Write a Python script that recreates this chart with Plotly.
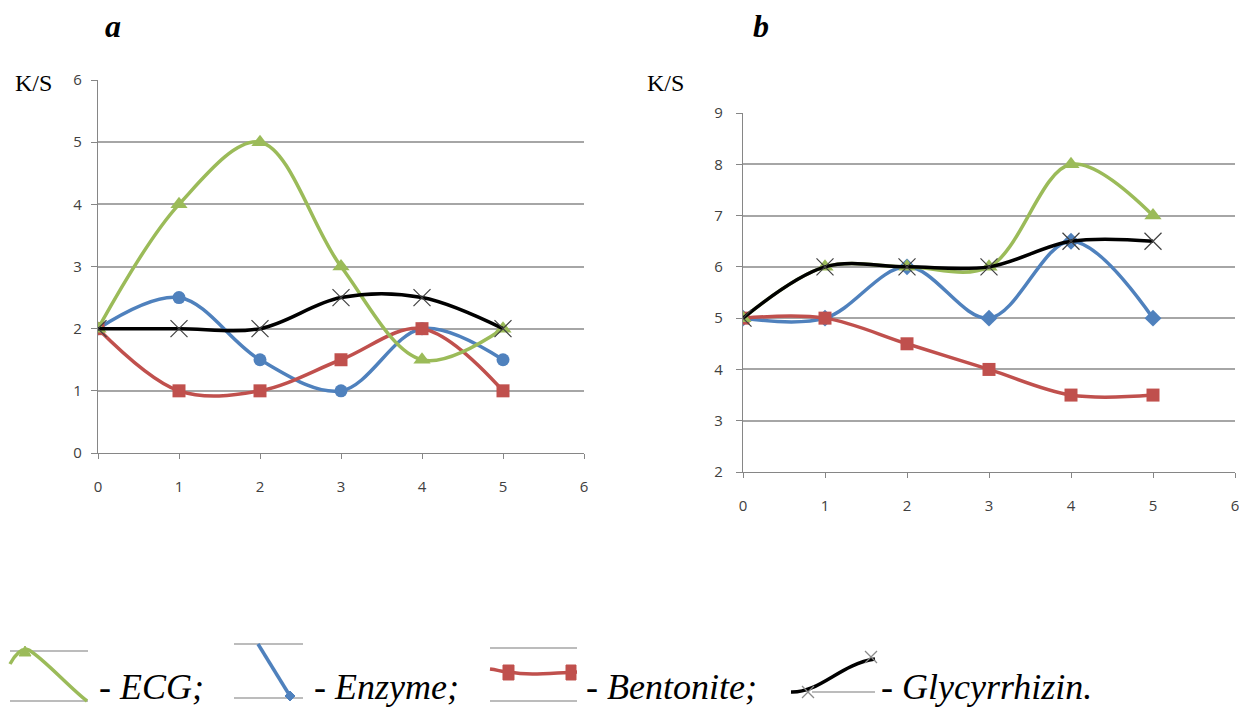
import plotly.graph_objects as go

W, H = 1239, 708

# ---------------- data ----------------
x_vals = [0, 1, 2, 3, 4, 5]
x_ticks = [0, 1, 2, 3, 4, 5, 6]

a_ecg = [2, 4, 5, 3, 1.5, 2]
a_enzyme = [2, 2.5, 1.5, 1, 2, 1.5]
a_bentonite = [2, 1, 1, 1.5, 2, 1]
a_glycyrrhizin = [2, 2, 2, 2.5, 2.5, 2]

b_ecg = [5, 6, 6, 6, 8, 7]
b_enzyme = [5, 5, 6, 5, 6.5, 5]
b_bentonite = [5, 5, 4.5, 4, 3.5, 3.5]
b_glycyrrhizin = [5, 6, 6, 6, 6.5, 6.5]

a_yticks = [0, 1, 2, 3, 4, 5, 6]
b_yticks = [2, 3, 4, 5, 6, 7, 8, 9]

series_names = ["ECG", "Enzyme", "Bentonite", "Glycyrrhizin"]
legend_labels = ["- ECG;", "- Enzyme;", "- Bentonite;", "- Glycyrrhizin."]

GREEN = "#9BBB59"
BLUE = "#4F81BD"
RED = "#C0504D"
BLACK = "#000000"
GRID = "#a6a6a6"
AXIS = "#868686"
TICKFONT = dict(family="Open Sans, Liberation Sans, sans-serif", size=15, color="#404040")
SERIF = "Liberation Serif, Times New Roman, serif"


def fx(px):
    return px / W


def fy(py):
    return 1 - py / H


fig = go.Figure()


def add_series(xa, ya, ecg, enz, ben, gly, enz_symbol):
    common = dict(mode="lines+markers", line_shape="spline", xaxis=xa, yaxis=ya,
                  showlegend=False, hoverinfo="skip")
    fig.add_trace(go.Scatter(x=x_vals, y=enz, name="Enzyme",
                             line=dict(color=BLUE, width=3.5, smoothing=1),
                             marker=dict(symbol=enz_symbol, size=13, color=BLUE), **common))
    fig.add_trace(go.Scatter(x=x_vals, y=ben, name="Bentonite",
                             line=dict(color=RED, width=3.5, smoothing=1),
                             marker=dict(symbol="square", size=13, color=RED), **common))
    fig.add_trace(go.Scatter(x=x_vals, y=ecg, name="ECG",
                             line=dict(color=GREEN, width=3.5, smoothing=1),
                             marker=dict(symbol="triangle-up", size=15, color=GREEN), **common))
    fig.add_trace(go.Scatter(x=x_vals, y=gly, name="Glycyrrhizin",
                             line=dict(color=BLACK, width=3.5, smoothing=1),
                             marker=dict(symbol="x-thin", size=17, color="#404040",
                                         line=dict(width=1.2, color="#404040")), **common))


add_series("x", "y", a_ecg, a_enzyme, a_bentonite, a_glycyrrhizin, "circle")
add_series("x2", "y2", b_ecg, b_enzyme, b_bentonite, b_glycyrrhizin, "diamond")

xcommon = dict(range=[0, 6], tickvals=x_ticks, showgrid=False, zeroline=False,
               showline=True, linecolor=AXIS, linewidth=1.3, ticks="outside",
               ticklen=5, tickcolor=AXIS, tickfont=TICKFONT, fixedrange=True,
               automargin=False, ticklabeloverflow="allow")
ycommon = dict(showgrid=True, gridcolor=GRID, gridwidth=1.5, zeroline=False,
               showline=True, linecolor=AXIS, linewidth=1.3, ticks="outside",
               ticklen=6, tickcolor=AXIS, tickfont=TICKFONT, fixedrange=True,
               automargin=False)

fig.update_layout(
    width=W, height=H,
    margin=dict(l=0, r=0, t=0, b=0, pad=0),
    paper_bgcolor="white", plot_bgcolor="white",
    xaxis=dict(domain=[fx(98), fx(584)], anchor="y", ticklabelstandoff=15, **xcommon),
    yaxis=dict(domain=[fy(453), fy(80)], anchor="x", range=[0, 6], tickvals=a_yticks,
               ticklabelstandoff=6, **ycommon),
    xaxis2=dict(domain=[fx(743), fx(1235)], anchor="y2", ticklabelstandoff=15, **xcommon),
    yaxis2=dict(domain=[fy(472), fy(113)], anchor="x2", range=[2, 9], tickvals=b_yticks,
                ticklabelstandoff=10, **ycommon),
)

# panel letters and axis titles
annots = [
    dict(text="<b><i>a</i></b>", x=fx(113), y=fy(26), size=32),
    dict(text="<b><i>b</i></b>", x=fx(761), y=fy(26), size=32),
    dict(text="K/S", x=fx(33), y=fy(83), size=24),
    dict(text="K/S", x=fx(666), y=fy(83), size=24),
]
for a in annots:
    fig.add_annotation(text=a["text"], x=a["x"], y=a["y"], xref="paper", yref="paper",
                       showarrow=False, xanchor="center", yanchor="middle",
                       font=dict(family=SERIF, size=a["size"], color="black"))

# legend texts
legend_x = [97, 312, 584, 879]
for lbl, lx in zip(legend_labels, legend_x):
    fig.add_annotation(text="<i>" + lbl + "</i>", x=fx(lx), y=fy(687), xref="paper",
                       yref="paper", showarrow=False, xanchor="left", yanchor="middle",
                       font=dict(family=SERIF, size=36, color="black"))


def pt(x, y):
    return f"{fx(x):.5f},{fy(y):.5f}"


def poly(points, close=True):
    s = "M " + pt(*points[0])
    for p in points[1:]:
        s += " L " + pt(*p)
    if close:
        s += " Z"
    return s


def cubic(start, segs):
    s = "M " + pt(*start)
    for c1, c2, e in segs:
        s += " C " + pt(*c1) + " " + pt(*c2) + " " + pt(*e)
    return s


shapes = []


def hline(x0, x1, y):
    shapes.append(dict(type="line", xref="paper", yref="paper", x0=fx(x0), x1=fx(x1),
                       y0=fy(y), y1=fy(y), line=dict(color=GRID, width=1.5)))


def stroke(p, color, width=3.5):
    shapes.append(dict(type="path", xref="paper", yref="paper", path=p,
                       line=dict(color=color, width=width)))


def filled(p, color):
    shapes.append(dict(type="path", xref="paper", yref="paper", path=p,
                       fillcolor=color, line=dict(color=color, width=1)))


# ECG icon
hline(10, 88, 651)
hline(10, 88, 701)
stroke(cubic((10, 664), [((15, 655), (22, 647), (29, 650)), ((45, 660), (70, 688), (87, 701))]), GREEN)
filled(poly([(19, 656), (25, 646), (31, 656)]), GREEN)
# Enzyme icon
hline(234, 303, 644)
hline(234, 303, 698)
stroke(poly([(258, 644), (290, 696)], close=False), BLUE)
filled(poly([(290, 691), (295, 696), (290, 701), (285, 696)]), BLUE)
# Bentonite icon
hline(490, 577, 648)
hline(490, 577, 701)
stroke(cubic((490, 669), [((498, 670), (503, 672), (509, 672)), ((530, 676), (550, 673), (577, 672))]), RED)
filled(poly([(503, 665), (514, 665), (514, 680), (503, 680)]), RED)
filled(poly([(566, 665), (576, 665), (576, 680), (566, 680)]), RED)
# Glycyrrhizin icon
hline(812, 875, 692)
stroke(cubic((791, 692), [((820, 693), (840, 664), (875, 659))]), BLACK)
for cx, cy in [(808, 692), (871, 657)]:
    stroke(poly([(cx - 6, cy - 6), (cx + 6, cy + 6)], close=False), "#8a8a8a", width=1.2)
    stroke(poly([(cx - 6, cy + 6), (cx + 6, cy - 6)], close=False), "#8a8a8a", width=1.2)

fig.update_layout(shapes=shapes)

fig.write_html("out.html", config={"displayModeBar": False},
               post_script="document.body.style.margin='0px';document.body.style.overflow='hidden';")
